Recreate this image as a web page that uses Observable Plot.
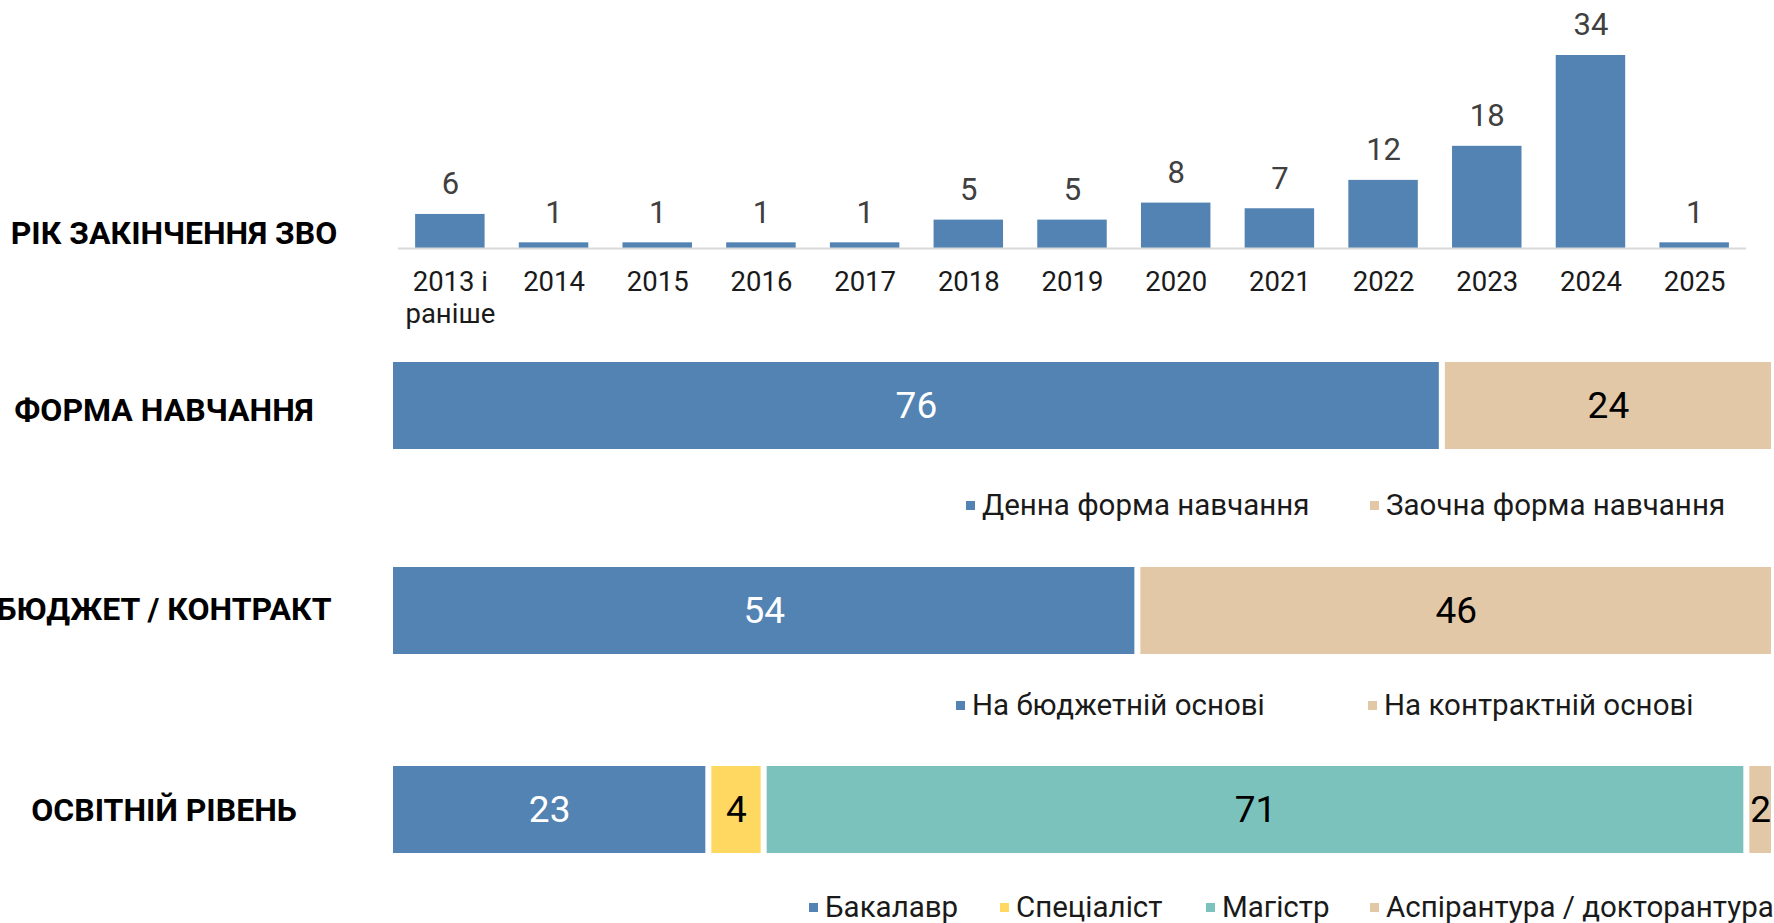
<!DOCTYPE html>
<html>
<head>
<meta charset="utf-8">
<script src="https://cdn.jsdelivr.net/npm/d3@7"></script>
<script src="https://cdn.jsdelivr.net/npm/@observablehq/plot@0.6"></script>
<style>
  body { margin: 0; background: #fff; font-family: Roboto, sans-serif; }
  #root { position: relative; width: 1774px; height: 923px; overflow: hidden; background: #fff; }
  .slot { position: absolute; left: 0; }
  .slot svg { display: block; }
  .rowtitle { position: absolute; font-weight: 700; font-size: 32px; color: #000; white-space: nowrap; transform: translate(-50%, -50%); }
  .leg { position: absolute; display: flex; align-items: center; font-size: 29.5px; color: #1a1a1a; white-space: nowrap; transform: translateY(-50%); }
  .sw { width: 9px; height: 9px; margin-right: 7px; flex: none; }
</style>
</head>
<body>
<div id="root"></div>
<script>
// ---------- DATA ----------
const yearLabels = ["2013 і\nраніше", "2014", "2015", "2016", "2017", "2018", "2019", "2020", "2021", "2022", "2023", "2024", "2025"];
const yearCounts = [6, 1, 1, 1, 1, 5, 5, 8, 7, 12, 18, 34, 1];

const formCats = ["Денна форма навчання", "Заочна форма навчання"];
const formValues = [76, 24];

const fundCats = ["На бюджетній основі", "На контрактній основі"];
const fundValues = [54, 46];

const levelCats = ["Бакалавр", "Спеціаліст", "Магістр", "Аспірантура / докторантура"];
const levelValues = [23, 4, 71, 2];

const rowTitles = ["РІК ЗАКІНЧЕННЯ ЗВО", "ФОРМА НАВЧАННЯ", "БЮДЖЕТ / КОНТРАКТ", "ОСВІТНІЙ РІВЕНЬ"];

// ---------- STYLE ----------
const BLUE = "#5383b3", BEIGE = "#e2c8a6", YELLOW = "#ffd862", TEAL = "#7bc2bd";
const twoColors = [BLUE, BEIGE];
const levelColors = [BLUE, YELLOW, TEAL, BEIGE];

const rootEl = document.getElementById("root");
function place(node, y) {
  const d = document.createElement("div");
  d.className = "slot";
  d.style.top = y + "px";
  d.appendChild(node);
  rootEl.appendChild(d);
}

// ---------- TOP BAR CHART ----------
const yearData = yearLabels.map((y, i) => ({year: y, count: yearCounts[i]}));
const yearChart = Plot.plot({
  width: 1774, height: 330,
  marginLeft: 398, marginRight: 28, marginTop: 55, marginBottom: 82,
  x: {domain: yearLabels, paddingInner: 0.33, paddingOuter: 0.165, round: false, axis: null},
  y: {domain: [0, 34], axis: null},
  style: {fontFamily: "Roboto, sans-serif", background: "transparent", color: "#1a1a1a", overflow: "visible"},
  marks: [
    Plot.barY(yearData, {x: "year", y: "count", fill: BLUE}),
    Plot.ruleY([0], {stroke: "#d9d9d9", strokeWidth: 2}),
    Plot.text(yearData, {x: "year", y: "count", text: d => String(d.count), dy: -30, fontSize: 31, fill: "#404040"}),
    Plot.axisX({tickSize: 0, tickPadding: 20, fontSize: 27.5, lineHeight: 1.15, label: null})
  ]
});
place(yearChart, 0);

// ---------- STACKED ROWS ----------
function stackedRow(cats, values, colors) {
  let acc = 0;
  const data = cats.map((c, i) => {
    const d = {cat: c, value: values[i], x1: acc, x2: acc + values[i]};
    acc += values[i];
    return d;
  });
  return Plot.plot({
    width: 1774, height: 87,
    marginLeft: 390, marginRight: 0, marginTop: 0, marginBottom: 0,
    x: {domain: [0, 100], axis: null},
    color: {domain: cats, range: colors},
    style: {fontFamily: "Roboto, sans-serif", background: "transparent", overflow: "visible"},
    marks: [
      Plot.barX(data, {x1: "x1", x2: "x2", fill: "cat", insetLeft: 3, insetRight: 3}),
      Plot.text(data.filter(d => d.cat === cats[0]), {x: d => (d.x1 + d.x2) / 2, text: d => String(d.value), fill: "#fff", fontSize: 37}),
      Plot.text(data.filter(d => d.cat !== cats[0]), {x: d => (d.x1 + d.x2) / 2, text: d => String(d.value), fill: "#000", fontSize: 37})
    ]
  });
}
place(stackedRow(formCats, formValues, twoColors), 362);
place(stackedRow(fundCats, fundValues, twoColors), 567);
place(stackedRow(levelCats, levelValues, levelColors), 766);

// ---------- ROW TITLES ----------
const titlePos = [[174, 233], [164, 410], [164, 609], [164, 810]];
rowTitles.forEach((t, i) => {
  const d = document.createElement("div");
  d.className = "rowtitle";
  d.textContent = t;
  d.style.left = titlePos[i][0] + "px";
  d.style.top = titlePos[i][1] + "px";
  rootEl.appendChild(d);
});

// ---------- LEGENDS ----------
function legend(cats, colors, lefts, cy) {
  cats.forEach((c, i) => {
    const d = document.createElement("div");
    d.className = "leg";
    d.style.left = lefts[i] + "px";
    d.style.top = cy + "px";
    const s = document.createElement("span");
    s.className = "sw";
    s.style.background = colors[i];
    const t = document.createElement("span");
    t.textContent = c;
    d.appendChild(s); d.appendChild(t);
    rootEl.appendChild(d);
  });
}
legend(formCats, twoColors, [966, 1370], 505);
legend(fundCats, twoColors, [956, 1368], 705);
legend(levelCats, levelColors, [809, 1000, 1206, 1370], 907);
</script>
</body>
</html>
